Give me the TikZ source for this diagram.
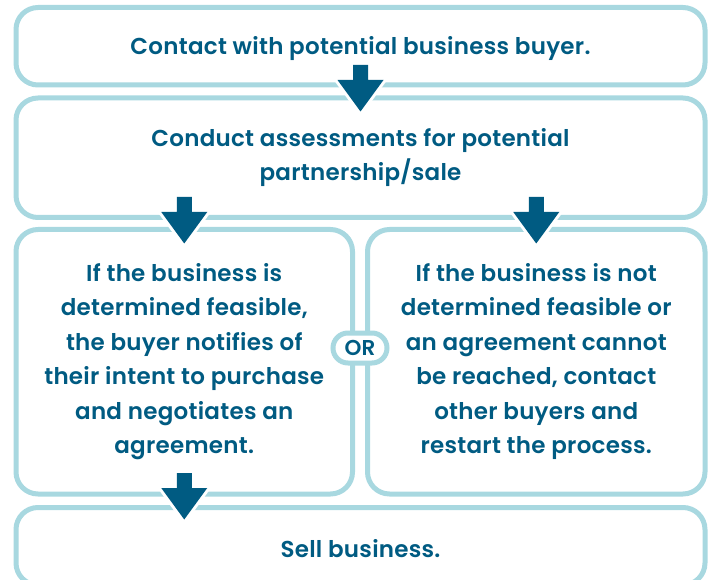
\documentclass[tikz,border=0pt]{standalone}
\usepackage{fontspec}
\setmainfont{Poppins}[BoldFont={Poppins SemiBold}, BoldFeatures={LetterSpace=1.2}]
\usetikzlibrary{shapes.misc,calc}
\definecolor{border}{RGB}{168,216,224}
\definecolor{ink}{RGB}{0,91,130}
\tikzset{
  box/.style={draw=border, line width=5pt, rounded corners=22pt, fill=white,
    inner sep=0pt, text=ink, align=center,
    font=\fontsize{23}{34.5}\selectfont\bfseries,
    execute at begin node={\rule{0pt}{22pt}}},
  multibox/.style={box, execute at begin node={\rule{0pt}{26pt}}},
  ornode/.style={draw=border, line width=5pt, fill=white, rounded rectangle,
    minimum width=54pt, minimum height=30pt, inner sep=0pt, text=ink,
    font=\fontsize{21.5}{26}\selectfont\bfseries},
  blockarrow/.pic={
    \path[draw=white, line width=6pt, line join=miter]
      (-7.5,0) -- (7.5,0) -- (7.5,15) -- (23,15) -- (0,46.5) -- (-23,15) -- (-7.5,15) -- cycle;
    \path[fill=ink]
      (-7.5,0) -- (7.5,0) -- (7.5,15) -- (23,15) -- (0,46.5) -- (-23,15) -- (-7.5,15) -- cycle;
  }
}
\begin{document}
\begin{tikzpicture}[x=1pt,y=-1pt]
\useasboundingbox (0,0) rectangle (710,580);
\clip (0,0) rectangle (710,580);
\node[box, minimum width=689pt, minimum height=77.5pt] (b1) at (360.5,46.25)
  {Contact with potential business buyer.};
\node[multibox, minimum width=689pt, minimum height=119.5pt] (b2) at (360.5,157.75)
  {Conduct assessments for potential\\partnership/sale};
\node[multibox, minimum width=336.5pt, minimum height=264.5pt] (b3l) at (184.25,361.75)
  {If the business is\\determined feasible,\\the buyer notifies of\\their intent to purchase\\and negotiates an\\agreement.};
\node[multibox, minimum width=337.5pt, minimum height=264.5pt] (b3r) at (536.25,361.75)
  {If the business is not\\determined feasible or\\an agreement cannot\\be reached, contact\\other buyers and\\restart the process.};
\node[box, minimum width=689pt, minimum height=77.5pt] (b4) at (360.5,546.25)
  {Sell business.};
\node[ornode] (or) at (360,348) {OR};
\pic at ($(b1.south)+(0,-22.5)$) {blockarrow};
\pic at ($(b2.south -| b3l.north)+(0,-23)$) {blockarrow};
\pic at ($(b2.south -| b3r.north)+(0,-23)$) {blockarrow};
\pic at ($(b3l.south)+(0,-23.5)$) {blockarrow};
\end{tikzpicture}
\end{document}
